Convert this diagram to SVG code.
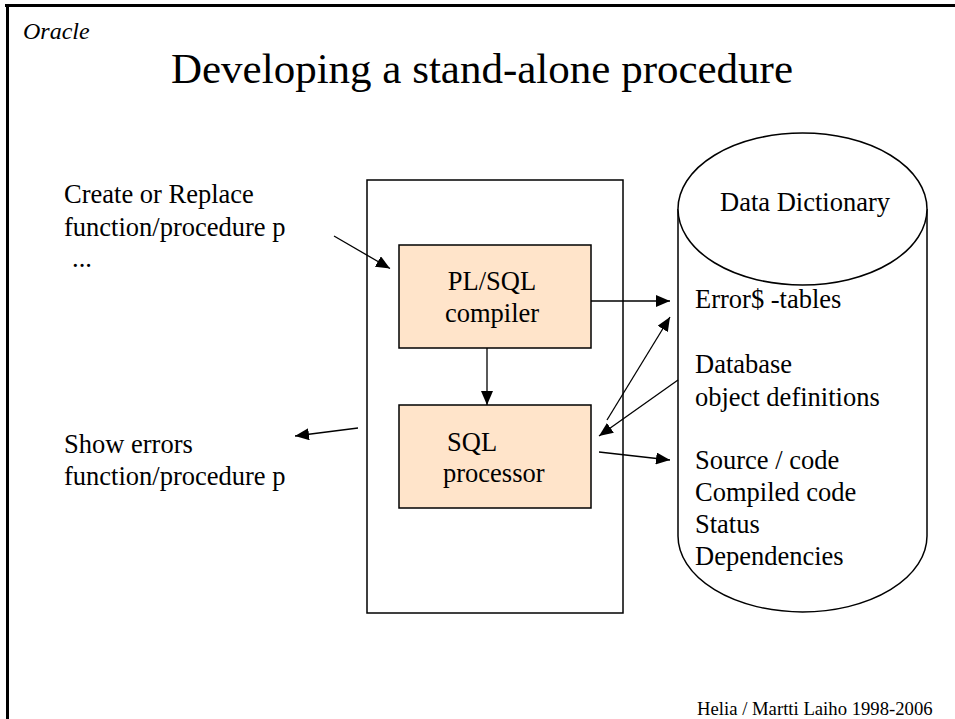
<svg xmlns="http://www.w3.org/2000/svg" width="955" height="719" viewBox="0 0 955 719">
  <style>
    text { font-family: "Liberation Serif", "Times New Roman", serif; fill: #000; }
    .body { font-size: 26.5px; }
    .frame { stroke: #000; stroke-width: 3; fill: none; }
    .box { fill: #FFE4CA; stroke: #000; stroke-width: 1.5; }
    .outline { fill: #fff; stroke: #000; stroke-width: 1.5; }
    .conn { stroke: #000; stroke-width: 1.3; fill: none; marker-end: url(#arrow); }
  </style>
  <defs>
    <marker id="arrow" markerUnits="userSpaceOnUse" markerWidth="15" markerHeight="12" refX="14" refY="6" orient="auto">
      <path d="M0,0 L14,6 L0,12 z" fill="#000"/>
    </marker>
  </defs>

  <rect width="955" height="719" fill="#fff"/>

  <!-- slide frame: top and left rules -->
  <line class="frame" x1="5" y1="5.5" x2="955" y2="5.5"/>
  <line class="frame" x1="7.5" y1="4" x2="7.5" y2="719"/>

  <text x="23" y="39" font-size="24" font-style="italic">Oracle</text>
  <text x="482" y="83" font-size="43" text-anchor="middle">Developing a stand-alone procedure</text>

  <!-- client commands -->
  <g id="create-cmd">
    <text class="body" x="64" y="203">Create or Replace</text>
    <text class="body" x="64" y="236">function/procedure p</text>
    <text class="body" x="72" y="267">...</text>
  </g>
  <g id="show-errors-cmd">
    <text class="body" x="64" y="453">Show errors</text>
    <text class="body" x="64" y="485">function/procedure p</text>
  </g>

  <!-- server container -->
  <g id="server">
    <rect class="outline" x="367" y="180" width="256" height="433"/>
  </g>

  <g id="plsql-compiler">
    <rect class="box" x="399" y="245" width="192" height="103"/>
    <text class="body" x="492" y="290" text-anchor="middle">PL/SQL</text>
    <text class="body" x="492" y="322" text-anchor="middle">compiler</text>
  </g>

  <g id="sql-processor">
    <rect class="box" x="399" y="405" width="192" height="103"/>
    <text class="body" x="447" y="451">SQL</text>
    <text class="body" x="443" y="482">processor</text>
  </g>

  <!-- data dictionary cylinder -->
  <g id="data-dictionary">
    <path class="outline" d="M678,209 L678,536 A124.5,76 0 0 0 927,536 L927,209"/>
    <ellipse class="outline" cx="802.5" cy="209" rx="124.5" ry="76"/>
    <text class="body" x="805" y="211" text-anchor="middle">Data Dictionary</text>
    <text class="body" x="695" y="308">Error$ -tables</text>
    <text class="body" x="695" y="373">Database</text>
    <text class="body" x="695" y="406">object definitions</text>
    <text class="body" x="695" y="469">Source / code</text>
    <text class="body" x="695" y="501">Compiled code</text>
    <text class="body" x="695" y="533">Status</text>
    <text class="body" x="695" y="565">Dependencies</text>
  </g>

  <g id="connectors">
    <line class="conn" x1="334" y1="236" x2="390" y2="268.5"/>
    <line class="conn" x1="358" y1="428" x2="295" y2="436"/>
    <line class="conn" x1="487" y1="348" x2="487" y2="405"/>
    <line class="conn" x1="591" y1="301" x2="670" y2="301"/>
    <line class="conn" x1="607" y1="420" x2="670" y2="317"/>
    <line class="conn" x1="678" y1="380" x2="599" y2="436"/>
    <line class="conn" x1="599" y1="452" x2="670" y2="460"/>
  </g>

  <text x="697" y="715" font-size="18.7">Helia / Martti Laiho 1998-2006</text>
</svg>
